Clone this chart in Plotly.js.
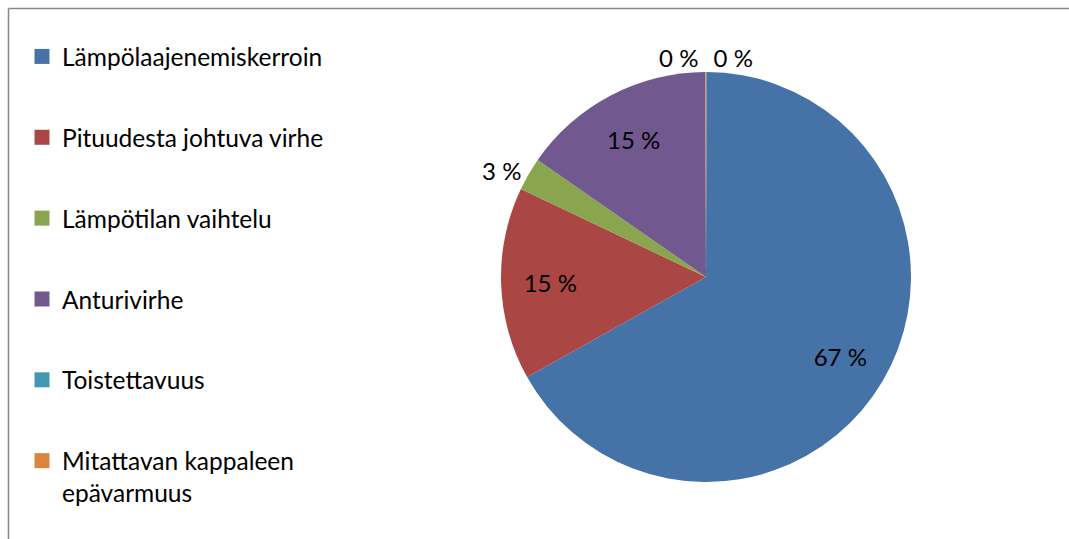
<!DOCTYPE html>
<html><head><meta charset="utf-8">
<script src="https://cdn.plot.ly/plotly-3.0.1.min.js"></script>
<style>html,body{margin:0;padding:0;background:#fff;} #chart{width:1069px;height:539px;}</style>
</head><body><div id="chart"></div>
<script>
const categories = ["Lämpölaajenemiskerroin", "Pituudesta johtuva virhe", "Lämpötilan vaihtelu", "Anturivirhe", "Toistettavuus", "Mitattavan kappaleen epävarmuus"];
const legendLabels = ["Lämpölaajenemiskerroin", "Pituudesta johtuva virhe", "Lämpötilan vaihtelu", "Anturivirhe", "Toistettavuus", "Mitattavan kappaleen<br>epävarmuus"];
const shares = [66.9, 15.2, 2.6, 15.3, 0.05, 0.05];
const colors = ["#4572A7", "#AA4643", "#89A54E", "#71588F", "#4198AF", "#DB843D"];
const textPositions = ["inside", "inside", "outside", "inside", "outside", "outside"];
// drawing order round the pie (the two empty slices sit either side of 12 o'clock)
const pieOrder = [4, 0, 1, 2, 3, 5];

const FONT = "Lato, 'Liberation Sans', sans-serif";
const W = 1069, H = 539;
const pick = arr => pieOrder.map(i => arr[i]);
const domain = {x: [501 / W, 911 / W], y: [57 / H, 467 / H]};

// coloured slices
const pieFill = {
  type: 'pie',
  labels: pick(categories),
  values: pick(shares),
  sort: false,
  direction: 'clockwise',
  rotation: 0,
  marker: {colors: pick(colors), line: {width: 0}},
  textinfo: 'none',
  domain: domain,
  showlegend: false,
  hoverinfo: 'none'
};

// percentage labels (ring layout pushes the inside labels outwards like the original)
const pieText = {
  type: 'pie',
  labels: pick(categories),
  values: pick(shares),
  sort: false,
  direction: 'clockwise',
  rotation: 0,
  hole: 0.52,
  marker: {colors: pick(colors).map(() => 'rgba(0,0,0,0)'), line: {width: 0}},
  texttemplate: '%{value:.0f} %',
  textposition: pick(textPositions),
  insidetextorientation: 'horizontal',
  textfont: {family: FONT, size: 24, color: '#000'},
  domain: domain,
  showlegend: false,
  hoverinfo: 'none'
};

const legendTraces = categories.map((c, i) => ({
  type: 'scatter',
  x: [null], y: [null],
  mode: 'markers',
  name: legendLabels[i],
  legendgroup: 'g' + i,
  marker: {symbol: 'square', size: 15, color: colors[i]},
  hoverinfo: 'skip'
}));

const layout = {
  width: W, height: H,
  margin: {l: 0, r: 0, t: 0, b: 0},
  paper_bgcolor: '#fff', plot_bgcolor: '#fff',
  showlegend: true,
  legend: {
    x: 22 / W, y: 1 - 34 / H, xanchor: 'left', yanchor: 'top',
    font: {family: FONT, size: 24.5, color: '#000'},
    tracegroupgap: 46, valign: 'top', bgcolor: 'rgba(0,0,0,0)'
  },
  xaxis: {visible: false}, yaxis: {visible: false},
  shapes: [
    {type: 'line', xref: 'paper', yref: 'paper', x0: 8.5 / W, x1: 1, y0: 1 - 8.5 / H, y1: 1 - 8.5 / H, line: {color: '#868686', width: 1.5}},
    {type: 'line', xref: 'paper', yref: 'paper', x0: 8.5 / W, x1: 8.5 / W, y0: 0, y1: 1 - 8.5 / H, line: {color: '#868686', width: 1.5}}
  ]
};

Plotly.newPlot('chart', [pieFill, pieText].concat(legendTraces), layout, {displayModeBar: false, staticPlot: true});
</script>
</body></html>
